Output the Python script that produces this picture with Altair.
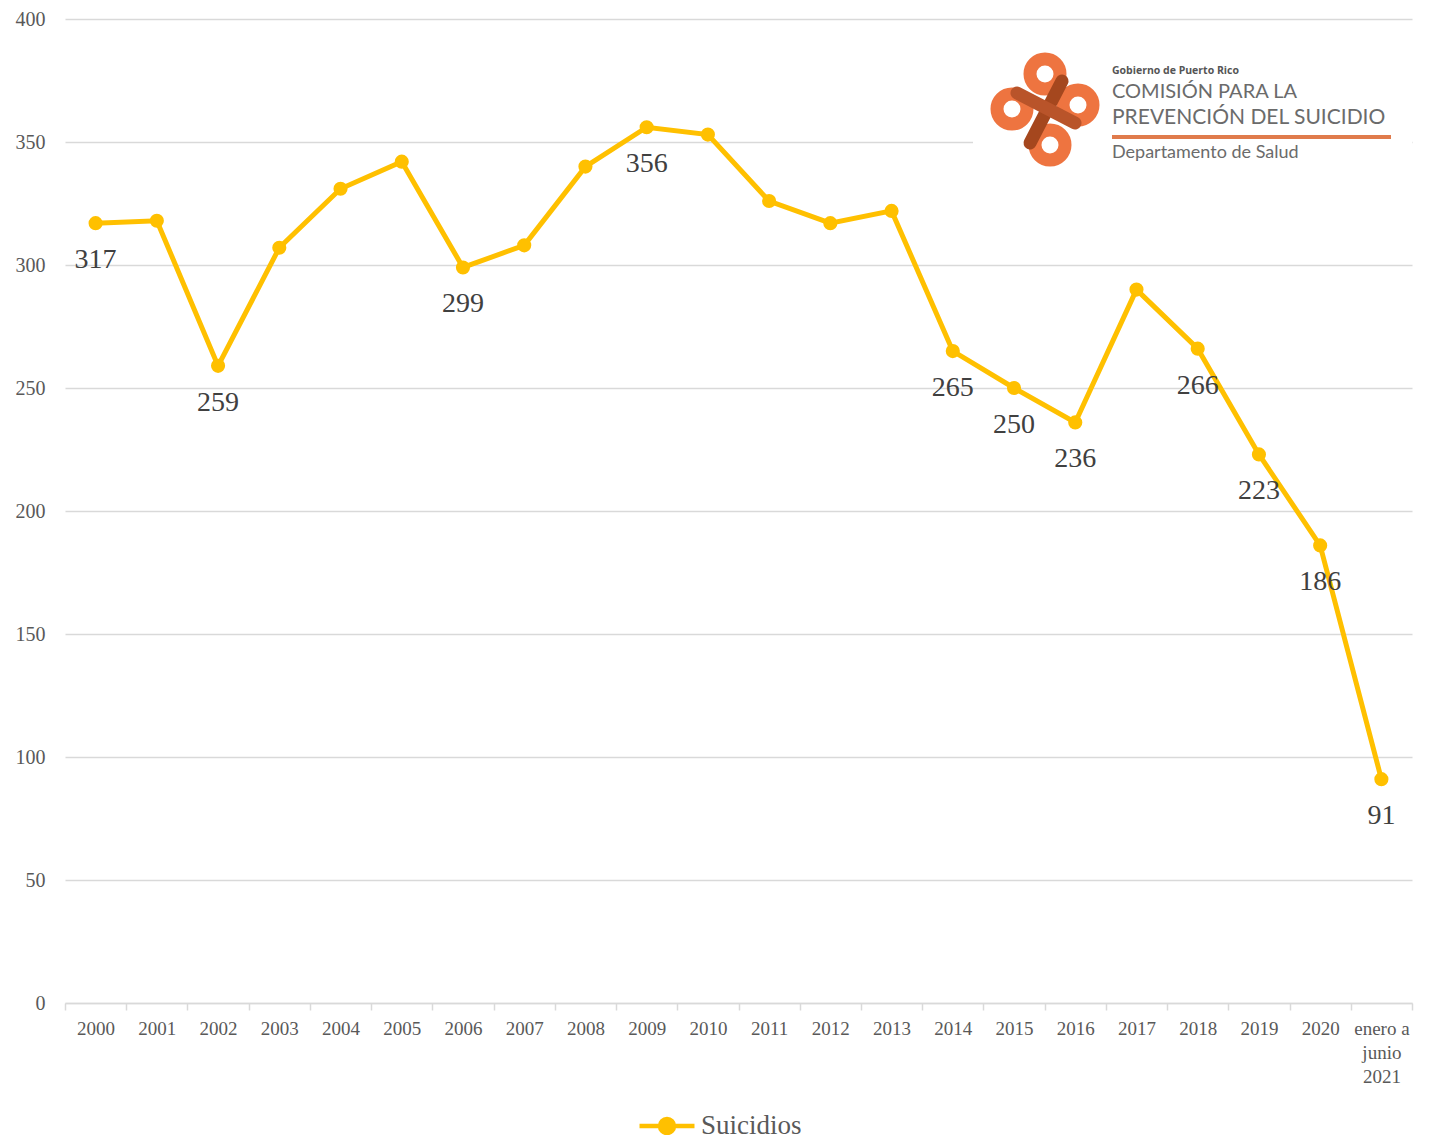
import altair as alt
import pandas as pd

categories = ["2000", "2001", "2002", "2003", "2004", "2005", "2006", "2007",
              "2008", "2009", "2010", "2011", "2012", "2013", "2014", "2015",
              "2016", "2017", "2018", "2019", "2020", "enero a junio 2021"]
suicidios = [317, 318, 259, 307, 331, 342, 299, 308, 340, 356, 353, 326,
             317, 322, 265, 250, 236, 290, 266, 223, 186, 91]
labeled = [True, False, True, False, False, False, True, False, False, True,
           False, False, False, False, True, True, True, False, True, True,
           True, True]
series_name = "Suicidios"
y_ticks = [0, 50, 100, 150, 200, 250, 300, 350, 400]

df = pd.DataFrame({
    "periodo": categories,
    "suicidios": suicidios,
    "etiqueta": labeled,
    "serie": [series_name] * len(categories),
})

GOLD = "#FFC000"
SERIF = "Liberation Serif"

x_enc = alt.X(
    "periodo:O", sort=categories,
    scale=alt.Scale(type="band", paddingInner=0, paddingOuter=0),
    axis=alt.Axis(
        title=None, labelAngle=0, tickBand="extent", grid=False,
        domainColor="#D9D9D9", domainWidth=1.5, tickColor="#D9D9D9",
        tickWidth=1.5, tickSize=7, labelPadding=9,
        labelFont=SERIF, labelFontSize=19, labelColor="#595959",
        labelLineHeight=24,
        labelExpr="datum.value == 'enero a junio 2021' ? ['enero a', 'junio', '2021'] : datum.value",
    ),
)
y_enc = alt.Y(
    "suicidios:Q", scale=alt.Scale(domain=[0, 400], nice=False),
    axis=alt.Axis(
        title=None, values=y_ticks, domain=False, ticks=False, grid=True,
        gridColor="#D9D9D9", gridWidth=1.5, labelPadding=20,
        labelFont=SERIF, labelFontSize=20, labelColor="#595959",
    ),
)
legend_symbol = "M-2,0H2M-0.51,0A0.51,0.51,0,1,0,0.51,0A0.51,0.51,0,1,0,-0.51,0Z"
color_enc = alt.Color(
    "serie:N", scale=alt.Scale(range=[GOLD]),
    legend=alt.Legend(
        title=None, orient="none", legendX=586, legendY=1091,
        symbolType=legend_symbol, symbolSize=756, symbolStrokeWidth=4.5,
        symbolFillColor=GOLD, symbolStrokeColor=GOLD,
        labelFont=SERIF, labelFontSize=27, labelColor="#595959",
        labelOffset=18,
    ),
)

base = alt.Chart(df)
line = base.mark_line(strokeWidth=5).encode(x=x_enc, y=y_enc, color=color_enc)
points = base.mark_point(filled=True, size=200, opacity=1).encode(
    x=x_enc, y=y_enc, color=color_enc)
labels = base.transform_filter(alt.datum.etiqueta).mark_text(
    dy=37, fontSize=28, font=SERIF, color="#404040", baseline="middle"
).encode(x=x_enc, y=y_enc, text=alt.Text("suicidios:Q"))

# Logo (decorative)
one = alt.Chart(pd.DataFrame({"k": [0]}))
logo_bg = one.mark_rect(color="white").encode(
    x=alt.value(908), x2=alt.value(1347), y=alt.value(24), y2=alt.value(158))

ORANGE = "#EE7440"
BROWN = "#A5471E"
petal_pos = [(980, 55), (947, 90), (1013, 86), (985, 126)]
petals = [
    one.mark_point(shape="circle", filled=False, strokeWidth=13, size=900,
                   color=ORANGE, opacity=1).encode(x=alt.value(px), y=alt.value(py))
    for px, py in petal_pos
]
ribbon1 = one.mark_rule(strokeWidth=13, color=BROWN, strokeCap="round").encode(
    x=alt.value(997), x2=alt.value(965), y=alt.value(62), y2=alt.value(124))
ribbon2 = one.mark_rule(strokeWidth=13, color="#B9542A", strokeCap="round").encode(
    x=alt.value(952), x2=alt.value(1010), y=alt.value(74), y2=alt.value(104))

t1 = one.mark_text(text="Gobierno de Puerto Rico", font="Open Sans", fontSize=10.5,
                   fontWeight="bold", color="#555555", align="left",
                   baseline="middle").encode(x=alt.value(1047), y=alt.value(52))
t2 = one.mark_text(text="COMISIÓN PARA LA", font="Lato", fontSize=20,
                   color="#6b6b6b", align="left", baseline="middle").encode(
    x=alt.value(1047), y=alt.value(73))
t3 = one.mark_text(text="PREVENCIÓN DEL SUICIDIO", font="Lato", fontSize=21,
                   color="#6b6b6b", align="left", baseline="middle").encode(
    x=alt.value(1047), y=alt.value(99))
bar = one.mark_rule(strokeWidth=4, color="#E07B4C").encode(
    x=alt.value(1047), x2=alt.value(1326), y=alt.value(118))
t4 = one.mark_text(text="Departamento de Salud", font="Lato", fontSize=18,
                   color="#6b6b6b", align="left", baseline="middle").encode(
    x=alt.value(1047), y=alt.value(134))

chart = alt.layer(
    logo_bg, *petals, ribbon1, ribbon2, t1, t2, t3, bar, t4,
    line, points, labels,
).properties(
    width=1347, height=984,
    autosize=alt.AutoSizeParams(type="none"),
    padding={"left": 57, "top": 11, "right": 11, "bottom": 132},
    background="white",
).configure_view(strokeWidth=0, stroke="transparent")

chart.save("out.html", embed_options={"renderer": "svg", "actions": False})
